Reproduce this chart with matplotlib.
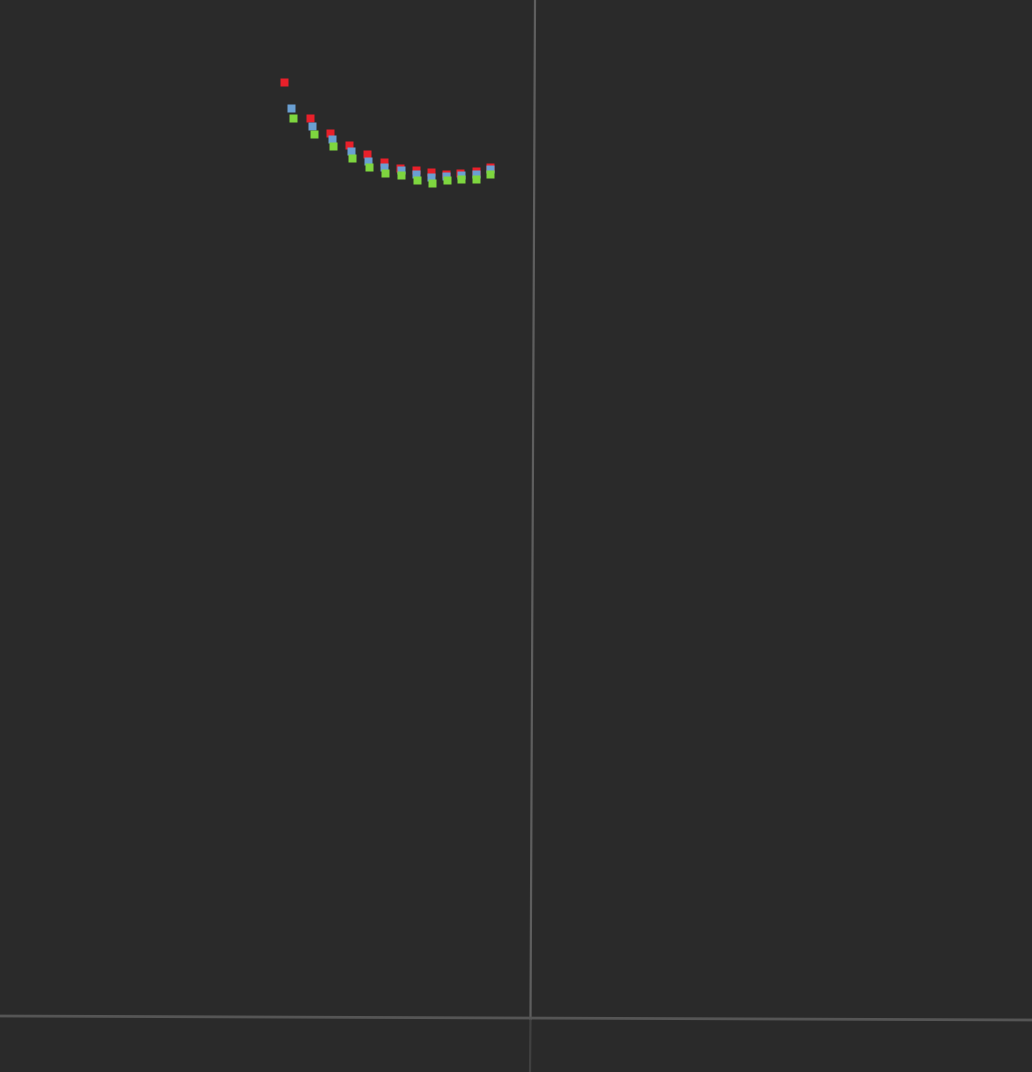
import matplotlib
matplotlib.use('Agg')
import matplotlib.pyplot as plt

# three series, 13 points each
red_x = [-24.9, -22.3, -20.3, -18.4, -16.6, -14.9, -13.3, -11.7, -10.2, -8.7, -7.3, -5.7, -4.3]
red_y = [93.6, 90.0, 88.5, 87.3, 86.4, 85.6, 85.0, 84.8, 84.6, 84.4, 84.5, 84.7, 85.1]
blue_x = [-24.2, -22.1, -20.1, -18.2, -16.5, -14.9, -13.2, -11.7, -10.2, -8.7, -7.2, -5.7, -4.3]
blue_y = [91.0, 89.2, 87.9, 86.7, 85.7, 85.1, 84.8, 84.4, 84.1, 84.2, 84.3, 84.4, 84.9]
green_x = [-24.0, -21.9, -20.0, -18.1, -16.4, -14.8, -13.2, -11.6, -10.1, -8.6, -7.2, -5.7, -4.3]
green_y = [90.0, 88.4, 87.2, 86.0, 85.1, 84.5, 84.3, 83.8, 83.5, 83.8, 83.9, 83.9, 84.4]

bg = '#2a2a2a'
fig = plt.figure(figsize=(10.32, 10.72), dpi=100, facecolor=bg)
ax = fig.add_axes([0, 0, 1, 1], facecolor=bg)
ax.set_xlim(-53.3, 49.9)
ax.set_ylim(-5.4, 101.8)
ax.axis('off')

# axis lines (slightly tilted, like a 3d view)
ax.plot([0.2, -0.25], [101.8, -0.1], color='#5e5e5e', lw=1.6, zorder=1)
ax.plot([-0.25, -0.3], [-0.1, -5.4], color='#404040', lw=1.6, zorder=1)
ax.plot([-53.3, 49.9], [0.2, -0.2], color='#555555', lw=2.0, zorder=1)

ms = 5.6
ax.plot(red_x, red_y, 's', color='#e8202a', ms=ms, mec='none', zorder=3)
ax.plot(blue_x, blue_y, 's', color='#6a9fd2', ms=ms, mec='none', zorder=4)
ax.plot(green_x, green_y, 's', color='#7ed63f', ms=ms, mec='none', zorder=5)

fig.savefig('out.png', dpi=100, facecolor=bg)
